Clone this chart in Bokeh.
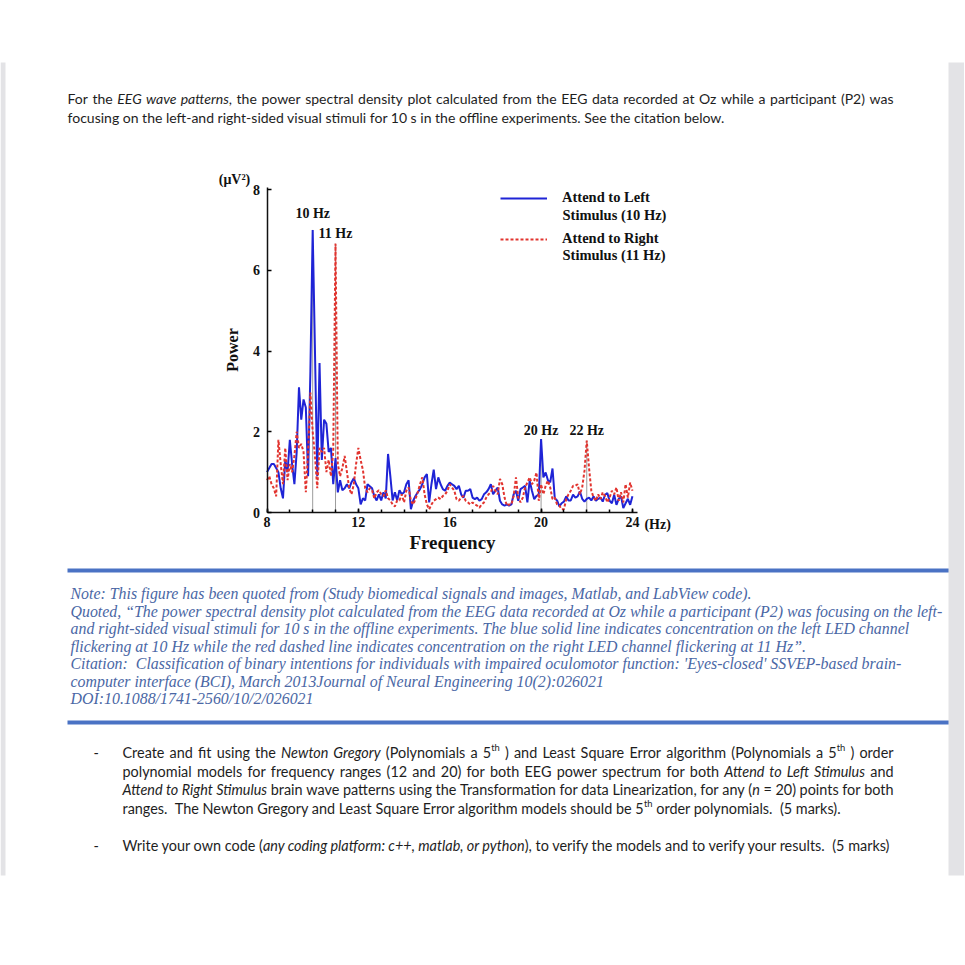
import os
import re
import glob
import subprocess

from bokeh.plotting import figure
from bokeh.models import (Range1d, SingleIntervalTicker, Label, Legend, LegendItem,
                          BoxAnnotation, ColumnDataSource)
from bokeh.embed import file_html
from bokeh.resources import INLINE

try:
    from PIL import ImageFont
except Exception:  # pragma: no cover
    ImageFont = None

# ----------------------------------------------------------------- data
freq = [
    8.0, 8.1, 8.2, 8.3, 8.4, 8.5, 8.6, 8.7, 8.8, 8.9,
    9.0, 9.1, 9.2, 9.3, 9.4, 9.5, 9.6, 9.7, 9.8, 9.9,
    10.0, 10.1, 10.2, 10.3, 10.4, 10.5, 10.6, 10.7, 10.8, 10.9,
    11.0, 11.1, 11.2, 11.3, 11.4, 11.5, 11.6, 11.7, 11.8, 11.9,
    12.0, 12.1, 12.2, 12.3, 12.4, 12.5, 12.6, 12.7, 12.8, 12.9,
    13.0, 13.1, 13.2, 13.3, 13.4, 13.5, 13.6, 13.7, 13.8, 13.9,
    14.0, 14.1, 14.2, 14.3, 14.4, 14.5, 14.6, 14.7, 14.8, 14.9,
    15.0, 15.1, 15.2, 15.3, 15.4, 15.5, 15.6, 15.7, 15.8, 15.9,
    16.0, 16.1, 16.2, 16.3, 16.4, 16.5, 16.6, 16.7, 16.8, 16.9,
    17.0, 17.1, 17.2, 17.3, 17.4, 17.5, 17.6, 17.7, 17.8, 17.9,
    18.0, 18.1, 18.2, 18.3, 18.4, 18.5, 18.6, 18.7, 18.8, 18.9,
    19.0, 19.1, 19.2, 19.3, 19.4, 19.5, 19.6, 19.7, 19.8, 19.9,
    20.0, 20.1, 20.2, 20.3, 20.4, 20.5, 20.6, 20.7, 20.8, 20.9,
    21.0, 21.1, 21.2, 21.3, 21.4, 21.5, 21.6, 21.7, 21.8, 21.9,
    22.0, 22.1, 22.2, 22.3, 22.4, 22.5, 22.6, 22.7, 22.8, 22.9,
    23.0, 23.1, 23.2, 23.3, 23.4, 23.5, 23.6, 23.7, 23.8, 23.9,
    24.0,
]

attend_left = [
    1.0, 1.1, 1.2, 1.2, 1.1, 1.0, 0.6, 0.35, 1.3, 1.0,
    1.8, 1.2, 0.7, 1.5, 3.1, 2.3, 2.8, 2.6, 0.9, 3.5,
    7.0, 4.0, 0.9, 3.7, 1.3, 2.3, 2.2, 1.5, 1.6, 0.7,
    1.35, 0.5, 0.8, 0.55, 0.6, 0.7, 0.6, 0.75, 0.85, 0.7,
    0.6, 0.2, 0.35, 0.3, 0.7, 0.65, 0.6, 0.4, 0.3, 0.45,
    0.3, 0.5, 0.35, 1.45, 0.9, 0.3, 0.5, 0.3, 0.55, 0.45,
    0.5, 0.7, 0.8, 0.08, 0.29, 0.41, 0.5, 0.58, 0.7, 0.87,
    0.95, 0.25, 0.7, 1.06, 0.58, 0.87, 0.7, 0.58, 0.54, 0.66,
    0.74, 0.7, 0.66, 0.58, 0.66, 0.45, 0.37, 0.54, 0.54, 0.58,
    0.37, 0.33, 0.37, 0.29, 0.33, 0.45, 0.5, 0.58, 0.7, 0.45,
    0.54, 0.62, 0.29, 0.2, 0.17, 0.2, 0.17, 0.2, 0.45, 0.54,
    0.29, 0.58, 0.62, 0.66, 0.25, 0.79, 0.54, 0.33, 0.41, 0.45,
    1.82, 0.87, 0.99, 0.8, 0.75, 1.09, 0.35, 0.3, 0.15, 0.23,
    0.27, 0.4, 0.3, 0.3, 0.44, 0.37, 0.4, 0.52, 0.34, 0.27,
    0.34, 0.37, 0.3, 0.4, 0.29, 0.34, 0.37, 0.27, 0.44, 0.48,
    0.29, 0.23, 0.44, 0.19, 0.34, 0.4, 0.11, 0.23, 0.34, 0.19,
    0.4,
]

attend_right = [
    0.8, 0.9, 0.7, 0.6, 0.4, 1.8, 1.2, 0.7, 1.6, 0.8,
    1.2, 1.0, 1.4, 2.0, 1.6, 1.7, 1.5, 0.5, 1.5, 2.97,
    2.0, 1.4, 0.6, 1.6, 1.5, 1.6, 1.0, 1.3, 0.9, 1.5,
    6.66, 1.2, 0.9, 1.1, 1.4, 1.0, 0.6, 0.45, 0.7, 1.2,
    1.6, 1.3, 1.05, 0.6, 0.5, 0.6, 0.55, 0.35, 0.5, 0.55,
    0.45, 0.4, 0.55, 0.35, 0.3, 0.2, 0.15, 0.3, 0.3, 0.45,
    0.25, 0.54, 0.62, 0.29, 0.2, 0.33, 0.5, 0.7, 0.87, 0.45,
    0.2, 0.08, 0.2, 0.29, 0.33, 0.37, 0.33, 0.41, 0.45, 0.54,
    0.7, 0.62, 0.54, 0.33, 0.29, 0.37, 0.41, 0.29, 0.25, 0.2,
    0.25, 0.2, 0.17, 0.12, 0.2, 0.25, 0.37, 0.45, 0.5, 0.66,
    0.54, 0.45, 0.83, 0.7, 0.37, 0.17, 0.2, 0.2, 0.41, 0.87,
    0.37, 0.25, 0.37, 0.62, 0.74, 0.87, 0.7, 0.79, 0.99, 0.29,
    0.7, 0.45, 0.66, 0.79, 0.62, 0.33, 0.37, 0.2, 0.17, 0.08,
    0.08, 0.33, 0.45, 0.54, 0.66, 0.66, 0.7, 0.45, 0.62, 1.03,
    1.78, 1.1, 0.54, 0.37, 0.29, 0.45, 0.33, 0.5, 0.41, 0.25,
    0.37, 0.54, 0.45, 0.62, 0.29, 0.5, 0.25, 0.7, 0.37, 0.74,
    0.54,
]

peak_freqs = [10.0, 11.0, 20.0, 22.0]
peak_labels = ["10 Hz", "11 Hz", "20 Hz", "22 Hz"]
peak_series = ["left", "right", "left", "right"]

legend_first = ["Attend to Left", "Attend to Right"]
legend_second = ["Stimulus (10 Hz)", "Stimulus (11 Hz)"]

x_axis_title = "Frequency"
x_unit = "(Hz)"
y_axis_title = "Power"
y_unit = "(\u03bcV\u00b2)"

intro_lines = [
    [("For the ", "n"), ("EEG wave patterns", "i"),
     (", the power spectral density plot calculated from the EEG data recorded at Oz while a participant (P2) was", "n")],
    [("focusing on the left-and right-sided visual stimuli for 10 s in the offline experiments. See the citation below.", "n")],
]

note_lines = [
    "Note: This figure has been quoted from (Study biomedical signals and images, Matlab, and LabView code).",
    "Quoted, \u201cThe power spectral density plot calculated from the EEG data recorded at Oz while a participant (P2) was focusing on the left-",
    "and right-sided visual stimuli for 10 s in the offline experiments. The blue solid line indicates concentration on the left LED channel",
    "flickering at 10 Hz while the red dashed line indicates concentration on the right LED channel flickering at 11 Hz\u201d.",
    "Citation:  Classification of binary intentions for individuals with impaired oculomotor function: 'Eyes-closed' SSVEP-based brain-",
    "computer interface (BCI), March 2013Journal of Neural Engineering 10(2):026021",
    "DOI:10.1088/1741-2560/10/2/026021",
]

task_lines = [
    [("Create and fit using the ", "n"), ("Newton Gregory", "i"), (" (Polynomials a 5", "n"), ("th", "sup"),
     (" ) and Least Square Error algorithm (Polynomials a 5", "n"), ("th", "sup"), (" ) order", "n")],
    [("polynomial models for frequency ranges (12 and 20) for both EEG power spectrum for both ", "n"),
     ("Attend to Left Stimulus", "i"), (" and", "n")],
    [("Attend to Right Stimulus", "i"),
     (" brain wave patterns using the Transformation for data Linearization, for any (", "n"), ("n", "i"),
     (" = 20) points for both", "n")],
    [("ranges.  The Newton Gregory and Least Square Error algorithm models should be 5", "n"), ("th", "sup"),
     (" order polynomials.  (5 marks).", "n")],
    [("Write your own code (", "n"), ("any coding platform: c++, matlab, or python", "i"),
     ("), to verify the models and to verify your results.  (5 marks)", "n")],
]

# ----------------------------------------------------------------- style
W, H = 964, 960
X8, PX_HZ = 266.5, 22.84      # page x of 8 Hz, pixels per Hz
Y0, PX_P = 512.0, 40.37       # page y of power 0, pixels per unit

BLUE = "#1f24d6"
RED = "#e2342f"
TEXT = "#1e1e1e"
INK = "#111111"
NOTE = "#4a67a5"
RULE = "#4a72c4"
STRIP = "#e3e3e6"
SERIF = "Liberation Serif"
SANS = "Lato"

FONT_FILES = {
    (SANS, "normal"): ["Lato-Regular.ttf"],
    (SANS, "italic"): ["Lato-Italic.ttf"],
    (SERIF, "italic"): ["LiberationSerif-Italic.ttf"],
    (SERIF, "normal"): ["LiberationSerif-Regular.ttf"],
}
_font_cache = {}


def _find_font(names, family, style):
    roots = ["/usr/share/fonts", "/usr/local/share/fonts",
             os.path.expanduser("~/.fonts"), os.path.expanduser("~/.local/share/fonts")]
    for n in names:
        for r in roots:
            hits = glob.glob(os.path.join(r, "**", n), recursive=True)
            if hits:
                return hits[0]
    try:
        st = "Regular" if style == "normal" else style.capitalize()
        out = subprocess.run(["fc-match", "-f", "%{file}", f"{family}:style={st}"],
                             capture_output=True, text=True, timeout=5).stdout.strip()
        if out and os.path.exists(out):
            return out
    except Exception:
        pass
    return None


def measure(txt, family, style, size):
    key = (family, style)
    if key not in _font_cache:
        f = None
        if ImageFont is not None:
            path = _find_font(FONT_FILES.get(key, []), family, style)
            if path:
                try:
                    f = ImageFont.truetype(path, 200)
                except Exception:
                    f = None
        _font_cache[key] = f
    f = _font_cache[key]
    if f is None:
        return len(txt) * size * 0.5
    return f.getlength(txt) * size / 200.0


SUP = 0.65

# ----------------------------------------------------------------- figure
# the frame covers the whole canvas; the chart axes sit at fixed data locations
x_range = Range1d(8 - X8 / PX_HZ, 8 + (W - X8) / PX_HZ)
y_range = Range1d((Y0 - H) / PX_P, Y0 / PX_P)
p = figure(width=W, height=H, output_backend="svg", toolbar_location=None,
           x_range=x_range, y_range=y_range, min_border=0,
           min_border_left=0, min_border_right=0, min_border_top=0, min_border_bottom=0)
p.xgrid.visible = False
p.ygrid.visible = False
p.outline_line_color = None
p.background_fill_color = "white"
p.border_fill_color = "white"

xa = p.xaxis[0]
xa.ticker = SingleIntervalTicker(interval=4, num_minor_ticks=4)
xa.fixed_location = 0
xa.bounds = (8, 24.2)
ya = p.yaxis[0]
ya.ticker = SingleIntervalTicker(interval=2, num_minor_ticks=0)
ya.fixed_location = 8
ya.bounds = (0, 8.05)
for ax in (xa, ya):
    ax.axis_line_width = 1.5
    ax.axis_line_color = INK
    ax.major_tick_in = 4
    ax.major_tick_out = 0
    ax.major_tick_line_width = 1.5
    ax.minor_tick_in = 3
    ax.minor_tick_out = 0
    ax.minor_tick_line_width = 1.5
    ax.major_label_text_font = SERIF
    ax.major_label_text_font_style = "bold"
    ax.major_label_text_font_size = "14px"
    ax.major_label_text_color = INK
    ax.axis_label_text_font = SERIF
    ax.axis_label_text_font_style = "bold"
    ax.axis_label_text_color = INK
xa.major_label_standoff = 4
xa.axis_label = x_axis_title
xa.axis_label_text_font_size = "19px"
xa.axis_label_standoff = 2
ya.major_label_standoff = 7
ya.axis_label = y_axis_title
ya.axis_label_text_font_size = "16px"
ya.axis_label_standoff = 10

src = ColumnDataSource(dict(freq=freq, left=attend_left, right=attend_right))
series = dict(left=attend_left, right=attend_right)
peak_vals = [series[s][freq.index(f)] for f, s in zip(peak_freqs, peak_series)]
p.segment(x0=peak_freqs, y0=[0] * len(peak_freqs), x1=peak_freqs, y1=peak_vals,
          line_color="#9c9c9c", line_width=1)

blue = p.line("freq", "left", source=src, line_color=BLUE, line_width=2)
red = p.line("freq", "right", source=src, line_color=RED, line_width=2, line_dash="3 2")

legend = Legend(items=[LegendItem(label=legend_first[0], renderers=[blue]),
                       LegendItem(label=legend_first[1], renderers=[red])],
                location=(500, H - 248.5), orientation="vertical",
                padding=0, margin=0, spacing=21, glyph_width=47, glyph_height=20,
                label_height=20, label_standoff=15,
                label_text_font=SERIF, label_text_font_style="bold",
                label_text_font_size="14.5px", label_text_color=INK,
                background_fill_alpha=0, border_line_alpha=0)
p.add_layout(legend)


def add_label(text, px, py, size, family, style="normal", color=TEXT, align="left",
              baseline="middle", x_data=None):
    kw = dict(y=H - py, y_units="screen", text=text, text_font=family,
              text_font_size=f"{size:.2f}px", text_font_style=style, text_color=color,
              text_align=align, text_baseline=baseline)
    if x_data is None:
        kw.update(x=px, x_units="screen")
    else:
        kw.update(x=x_data, x_units="data", x_offset=px)
    p.add_layout(Label(**kw))


for i, t in enumerate(legend_second):
    add_label(t, 562, [214, 254][i], 14.5, SERIF, "bold", INK)

# peak annotations
for f, lab, py in zip(peak_freqs, peak_labels, [213, 233, 430, 430]):
    add_label(lab, 0, py, 14, SERIF, "bold", INK, align="center", x_data=f)

add_label(x_unit, 12, 524, 14, SERIF, "bold", INK, x_data=24)
add_label(y_unit, 234, 179, 14, SERIF, "bold", INK, align="center")


# ----------------------------------------------------------------- page text
def seg_w(tok, st, size, family):
    fs = size * SUP if st == "sup" else size
    return measure(tok, family, "italic" if st == "i" else "normal", fs)


def place_line(segs, x0, py, size, family, color, justify_to=None):
    def draw(txt, x, st):
        if st == "sup":
            add_label(txt, x, py - 0.33 * size, size * SUP, family, "normal", color)
        else:
            add_label(txt, x, py, size, family, "italic" if st == "i" else "normal", color)

    toks = [(t, st) for txt, st in segs for t in re.findall(r"\s+|\S+", txt)]
    natural = sum(seg_w(t, st, size, family) for t, st in toks)
    nsp = sum(len(t) for t, st in toks if t.isspace())
    x = x0
    if justify_to is None or nsp == 0:
        for txt, st in segs:
            # runs of several spaces would collapse in SVG text: split there
            for piece in re.split(r"(\s{2,})", txt):
                if not piece:
                    continue
                if piece.strip():
                    lead = len(piece) - len(piece.lstrip())
                    draw(piece.strip(), x + (seg_w(piece[:lead], st, size, family) if lead else 0), st)
                x += seg_w(piece, st, size, family)
    else:
        extra = (justify_to - x0 - natural) / nsp
        for t, st in toks:
            if t.isspace():
                x += seg_w(t, st, size, family) + extra * len(t)
            else:
                draw(t, x, st)
                x += seg_w(t, st, size, family)


def fit(segs, family, target):
    return target / sum(seg_w(t, st, 1.0, family) for t, st in segs)


intro_size = fit(intro_lines[1], SANS, 724 - 67)
place_line(intro_lines[0], 67, 98, intro_size, SANS, TEXT, justify_to=893)
place_line(intro_lines[1], 67, 117, intro_size, SANS, TEXT)

# blue rules
for yc in (570, 722):
    p.add_layout(BoxAnnotation(left=67, right=951, top=H - (yc - 2), bottom=H - (yc + 2),
                               left_units="screen", right_units="screen",
                               top_units="screen", bottom_units="screen",
                               fill_color=RULE, fill_alpha=1, line_color=None))

note_size = fit([(note_lines[1], "i")], SERIF, 942 - 70)
for txt, py in zip(note_lines, [593, 610.5, 628, 645.5, 663, 680.5, 697.5]):
    place_line([(txt, "i")], 70, py, note_size, SERIF, NOTE)

task_size = fit(task_lines[4], SANS, 889 - 122)
task_y = [752, 770.5, 789, 807.5, 845]
for k, (segs, py) in enumerate(zip(task_lines, task_y)):
    place_line(segs, 122, py, task_size, SANS, TEXT, justify_to=893 if k < 3 else None)
for py in (752, 845):
    add_label("-", 93, py, task_size, SANS, "normal", TEXT)

# grey side strips of the document viewer
for l, r in ((0, 5), (948, 975)):
    p.add_layout(BoxAnnotation(left=l, right=r, top=H - 62, bottom=H - 875,
                               left_units="screen", right_units="screen",
                               top_units="screen", bottom_units="screen",
                               fill_color=STRIP, fill_alpha=1, line_color=None))

open("out.html", "w").write(file_html(p, INLINE))
